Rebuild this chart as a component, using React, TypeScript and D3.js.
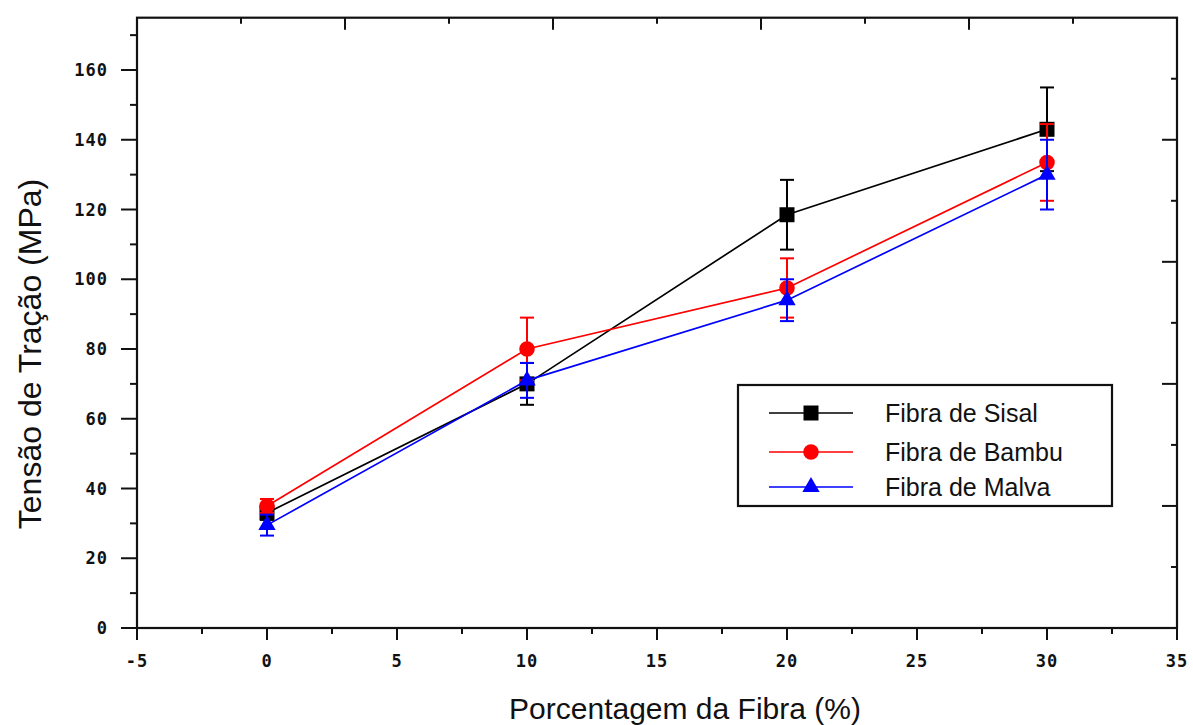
import React from 'react';
import * as d3 from 'd3';

// fibre percentage on x
const fibrePct = [0, 10, 20, 30];

// tensile strength (MPa) and error half-widths per series
const sisal = [33, 70, 118.5, 143];
const sisalErr = [2, 6, 10, 12];
const bambu = [35, 80, 97.5, 133.5];
const bambuErr = [2, 9, 8.5, 11];
const malva = [29.5, 71, 94, 130];
const malvaErr = [3, 5, 6, 10];

const seriesNames = ['Fibra de Sisal', 'Fibra de Bambu', 'Fibra de Malva'];
const xTickValues = [-5, 0, 5, 10, 15, 20, 25, 30, 35];
const yTickValues = [0, 20, 40, 60, 80, 100, 120, 140, 160];

const W = 1193;
const H = 725;
const left = 137, right = 1177, top = 17.7, bottom = 628;

const App = () => {
  const x = d3.scaleLinear().domain([-5, 35]).range([left, right]);
  const y = d3.scaleLinear().domain([0, 175]).range([bottom, top]);
  // the mirror axes on top / right have their own 10-step scales
  const xTop = d3.scaleLinear().domain([0, 10]).range([left, right]);
  const yRight = d3.scaleLinear().domain([0, 10]).range([bottom, top]);

  const series = [
    { name: seriesNames[0], vals: sisal, err: sisalErr, color: '#000000', shape: d3.symbolSquare, size: 225 },
    { name: seriesNames[1], vals: bambu, err: bambuErr, color: '#ff0000', shape: d3.symbolCircle, size: 190 },
    { name: seriesNames[2], vals: malva, err: malvaErr, color: '#0000ff', shape: d3.symbolTriangle, size: 130 },
  ];

  const lineGen = d3.line<number>()
    .x((_, i) => x(fibrePct[i]))
    .y(v => y(v));

  const xMinor = d3.range(-2.5, 35, 5);
  const yMinor = d3.range(10, 175, 20);
  const topTicks = xTop.ticks(10).filter(t => t > 0 && t < 10);
  const rightTicks = yRight.ticks(10).filter(t => t > 0 && t < 10);

  const tickFont = {
    fontFamily: 'DejaVu Sans Mono',
    fontWeight: 'bold' as const,
    fontSize: 17,
    letterSpacing: 1,
    fill: '#111',
  };

  const legendX = 738, legendY = 385;
  const rowY = [413, 452, 487];

  return (
    <svg width={W} height={H} style={{ position: 'absolute', left: 0, top: 0, background: '#fff' }}>
      <rect x={0} y={0} width={W} height={H} fill="#fff" />

      {/* frame */}
      <rect x={left} y={top} width={right - left} height={bottom - top} fill="none" stroke="#111" strokeWidth={2.2} />

      {/* bottom axis */}
      {xTickValues.map(t => (
        <g key={'xb' + t}>
          <line x1={x(t)} x2={x(t)} y1={bottom} y2={bottom + 12} stroke="#111" strokeWidth={2} />
          <text x={x(t)} y={667} textAnchor="middle" {...tickFont}>{String(t)}</text>
        </g>
      ))}
      {xMinor.map(t => (
        <line key={'xm' + t} x1={x(t)} x2={x(t)} y1={bottom} y2={bottom + 6} stroke="#111" strokeWidth={2} />
      ))}

      {/* left axis */}
      {yTickValues.map(t => (
        <g key={'yl' + t}>
          <line x1={left - 16} x2={left} y1={y(t)} y2={y(t)} stroke="#111" strokeWidth={2} />
          <text x={108} y={y(t) + 6} textAnchor="end" {...tickFont}>{String(t)}</text>
        </g>
      ))}
      {yMinor.map(t => (
        <line key={'ym' + t} x1={left - 7} x2={left} y1={y(t)} y2={y(t)} stroke="#111" strokeWidth={2} />
      ))}

      {/* top axis (inward) */}
      {topTicks.map(t => (
        <line key={'xt' + t} x1={xTop(t)} x2={xTop(t)} y1={top} y2={top + (t % 2 === 0 ? 12 : 6)} stroke="#111" strokeWidth={2} />
      ))}
      {/* right axis (inward) */}
      {rightTicks.map(t => (
        <line key={'yr' + t} x1={right - (t % 2 === 0 ? 15 : 6)} x2={right} y1={yRight(t)} y2={yRight(t)} stroke="#111" strokeWidth={2} />
      ))}

      {/* series */}
      {series.map(s => (
        <g key={s.name}>
          <path d={lineGen(s.vals) || ''} fill="none" stroke={s.color} strokeWidth={1.7} />
          {s.vals.map((v, i) => {
            const cx = x(fibrePct[i]);
            const lo = y(v - s.err[i]);
            const hi = y(v + s.err[i]);
            return (
              <g key={i}>
                <line x1={cx} x2={cx} y1={lo} y2={hi} stroke={s.color} strokeWidth={2} />
                <line x1={cx - 7} x2={cx + 7} y1={lo} y2={lo} stroke={s.color} strokeWidth={2} />
                <line x1={cx - 7} x2={cx + 7} y1={hi} y2={hi} stroke={s.color} strokeWidth={2} />
                <path
                  d={d3.symbol().type(s.shape).size(s.size)() || ''}
                  transform={`translate(${cx},${y(v)})`}
                  fill={s.color}
                />
              </g>
            );
          })}
        </g>
      ))}

      {/* legend */}
      <rect x={legendX} y={legendY} width={374} height={121} fill="#fff" stroke="#111" strokeWidth={2.2} />
      {series.map((s, i) => (
        <g key={'lg' + s.name}>
          <line x1={769} x2={853} y1={rowY[i]} y2={rowY[i]} stroke={s.color} strokeWidth={1.7} />
          <path
            d={d3.symbol().type(s.shape).size(s.size)() || ''}
            transform={`translate(811,${rowY[i]})`}
            fill={s.color}
          />
          <text x={885} y={rowY[i] + 9} fontFamily="Liberation Sans, Arial, sans-serif" fontSize={25} fill="#111">
            {s.name}
          </text>
        </g>
      ))}

      {/* axis titles */}
      <text
        x={685}
        y={719}
        textAnchor="middle"
        fontFamily="Liberation Sans, Arial, sans-serif"
        fontSize={30}
        fill="#111"
      >
        Porcentagem da Fibra (%)
      </text>
      <text
        transform="translate(41,354) rotate(-90)"
        textAnchor="middle"
        fontFamily="Liberation Sans, Arial, sans-serif"
        fontSize={32}
        fill="#111"
      >
        Tensão de Tração (MPa)
      </text>
    </svg>
  );
};

export default App;
